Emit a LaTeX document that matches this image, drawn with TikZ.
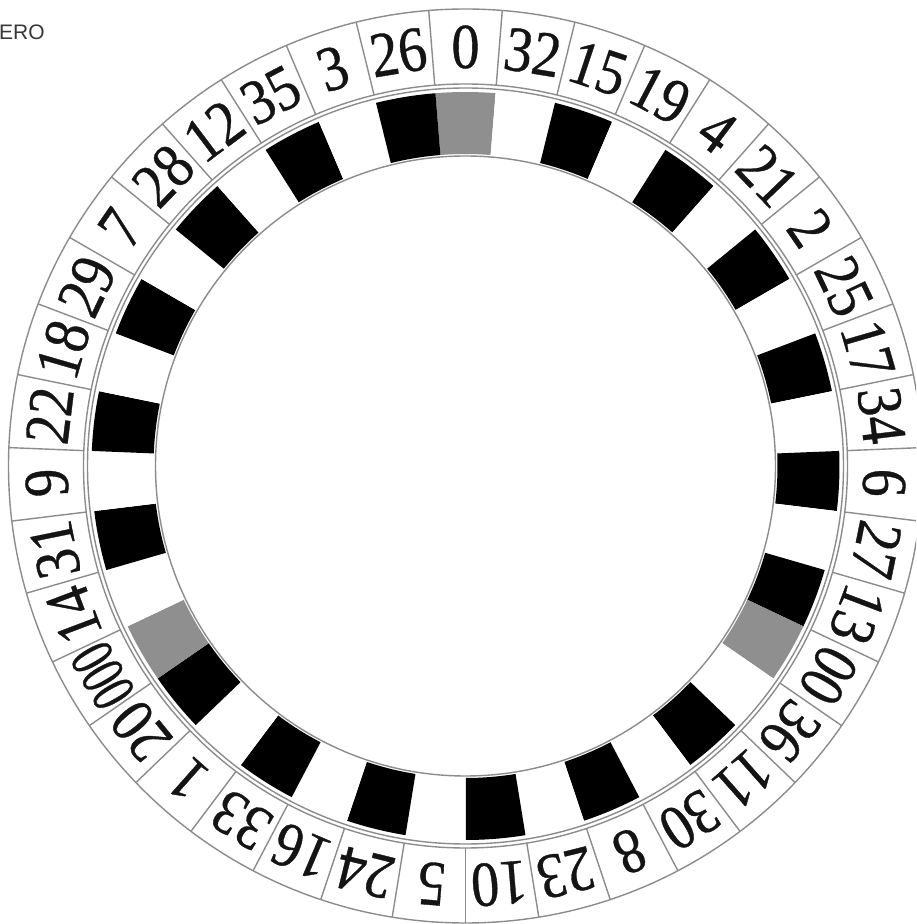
\documentclass[tikz,border=0pt]{standalone}
\usepackage{fontspec}
\setmainfont{Liberation Serif}
\newfontfamily\numfont[FakeBold=0.6]{Liberation Serif}
\newfontfamily\labelsans{Liberation Sans}
\usepackage{graphicx}
\definecolor{ringline}{RGB}{140,140,140}
\definecolor{zerogrey}{RGB}{143,143,143}
\definecolor{numink}{RGB}{20,20,20}
\definecolor{titleink}{RGB}{55,55,55}
\tikzset{
  ringstroke/.style={draw=ringline, line width=1.4pt},
  numlab/.style={inner sep=0pt, text=numink, font=\numfont\fontsize{64}{64}\selectfont},
  titlelab/.style={inner sep=0pt, text=titleink, font=\labelsans\fontsize{21}{21}\selectfont}
}
\begin{document}
\begin{tikzpicture}[x=1pt,y=1pt]
\useasboundingbox (0,0) rectangle (916,924);
\clip (0,0) rectangle (916,924);
\fill[white] (0,0) rectangle (916,924);
\node[titlelab, anchor=west] (title) at (-1,892) {ERO};
\begin{scope}[shift={(465.5,458)}]
  % pockets
  \foreach \col [count=\i from 0] in {zerogrey,white,black,white,black,white,black,white,black,white,black,white,black,zerogrey,white,black,white,black,white,black,white,black,white,black,white,black,zerogrey,white,black,white,black,white,black,white,black,white,black,white,black} {
    \pgfmathsetmacro\a{90-\i*360/39}
    \fill[\col] (\a+4.6154:374) arc[start angle=\a+4.6154, end angle=\a-4.6154, radius=374]
      -- (\a-4.6154:312) arc[start angle=\a-4.6154, end angle=\a+4.6154, radius=312] -- cycle;
  }
  % circles
  \draw[ringstroke] (0,0) circle[radius=457];
  \draw[ringstroke] (0,0) circle[radius=382];
  \draw[ringstroke] (0,0) circle[radius=378];
  \draw[ringstroke] (0,0) circle[radius=310];
  % dividers and numbers
  \foreach \num/\sc [count=\i from 0] in {0/0.88,32/0.88,15/0.88,19/0.88,4/0.88,21/0.88,2/0.88,25/0.88,17/0.88,34/0.88,6/0.88,27/0.88,13/0.88,00/0.84,36/0.88,11/0.88,30/0.88,8/0.88,23/0.88,10/0.88,5/0.88,24/0.88,16/0.88,33/0.88,1/0.88,20/0.86,000/0.66,14/0.86,31/0.88,9/0.88,22/0.88,18/0.88,29/0.88,7/0.88,28/0.88,12/0.88,35/0.88,3/0.88,26/0.88} {
    \pgfmathsetmacro\a{90-\i*360/39}
    \draw[ringstroke] (\a+4.6154:382) -- (\a+4.6154:457);
    \node[numlab, rotate=\a-90] (n\i) at (\a:419) {\scalebox{\sc}[1]{\num}};
  }
\end{scope}
\end{tikzpicture}
\end{document}
